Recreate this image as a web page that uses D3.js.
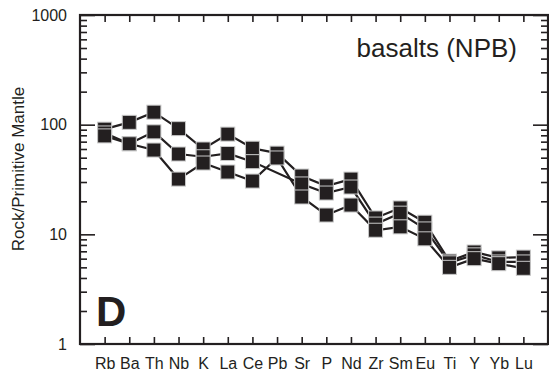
<!DOCTYPE html>
<html>
<head>
<meta charset="utf-8">
<script src="https://cdn.jsdelivr.net/npm/d3@7"></script>
<style>
  body { margin: 0; background: #fff; }
  text { font-family: "Liberation Sans", Arial, sans-serif; fill: #231f20; }
</style>
</head>
<body>
<div id="chart"></div>
<script>
// element order along the x axis
const elements = ["Rb", "Ba", "Th", "Nb", "K", "La", "Ce", "Pb", "Sr", "P", "Nd", "Zr", "Sm", "Eu", "Ti", "Y", "Yb", "Lu"];

// rock / primitive mantle, one array per sample (null = not measured)
const sampleA = [91, 105, 130, 92, 60, 82, 61, 55, 34, 27.6, 31.9, 14.1, 17.4, 12.9, 5.7, 6.9, 6.1, 6.2];
const sampleB = [84, 67, 86, 54, 51, 54.6, 46, null, 28.8, 23.8, 27, 12.4, 15.6, 11.2, 5.5, 6.5, 5.6, 5.6];
const sampleC = [79, 67, 58.7, 31.9, 44.7, 37, 30.6, 49.7, 21.9, 15, 18.5, 10.9, 11.7, 9.1, 5.0, 6.0, 5.4, 4.9];
const samples = [sampleA, sampleB, sampleC];

const majorTicks = [1, 10, 100, 1000];

const width = 549, height = 379;
const margin = {top: 15, right: 1, bottom: 35, left: 80};
const x0 = margin.left, x1 = width - margin.right, y0 = margin.top, y1 = height - margin.bottom;
const ink = "#231f20";

const svg = d3.select("#chart").append("svg")
    .attr("width", width)
    .attr("height", height);

const x = d3.scalePoint().domain(elements).range([x0, x1]).padding(1);
const y = d3.scaleLog().domain([1, 1000]).range([y1, y0]);

const minorTicks = y.ticks().filter(t => !majorTicks.includes(t));

function styleAxis(g) {
    g.select(".domain").remove();
    g.selectAll(".tick line").attr("stroke", ink).attr("stroke-width", 1.6);
}

// left axis: major ticks + labels, minor ticks
svg.append("g").attr("transform", `translate(${x0},0)`)
   .call(d3.axisLeft(y).tickValues(majorTicks).tickSize(-15).tickSizeOuter(0).tickPadding(13).tickFormat(d3.format("d")))
   .call(styleAxis)
   .call(g => g.selectAll("text").style("font-size", "16px").attr("font-family", null));
svg.append("g").attr("transform", `translate(${x0},0)`)
   .call(d3.axisLeft(y).tickValues(minorTicks).tickSize(-7).tickSizeOuter(0).tickFormat(""))
   .call(styleAxis);

// right axis, ticks pointing inward
svg.append("g").attr("transform", `translate(${x1},0)`)
   .call(d3.axisRight(y).tickValues(majorTicks).tickSize(-15).tickSizeOuter(0).tickFormat(""))
   .call(styleAxis);
svg.append("g").attr("transform", `translate(${x1},0)`)
   .call(d3.axisRight(y).tickValues(minorTicks).tickSize(-7).tickSizeOuter(0).tickFormat(""))
   .call(styleAxis);

// bottom axis with element labels
svg.append("g").attr("transform", `translate(0,${y1})`)
   .call(d3.axisBottom(x).tickSize(-7).tickSizeOuter(0).tickPadding(14))
   .call(styleAxis)
   .call(g => g.selectAll("text").style("font-size", "16px").attr("font-family", null));
svg.append("g").attr("transform", `translate(0,${y0})`)
   .call(d3.axisTop(x).tickSize(-7).tickSizeOuter(0).tickFormat(""))
   .call(styleAxis);

// frame
svg.append("rect")
   .attr("x", x0).attr("y", y0)
   .attr("width", x1 - x0).attr("height", y1 - y0)
   .attr("fill", "none").attr("stroke", ink).attr("stroke-width", 2.2);

// y title
svg.append("text")
   .attr("transform", "translate(24,169) rotate(-90)")
   .attr("text-anchor", "middle")
   .style("font-size", "17px")
   .text("Rock/Primitive Mantle");

svg.append("text")
   .attr("x", 517).attr("y", 57)
   .attr("text-anchor", "end")
   .style("font-size", "26px")
   .text("basalts (NPB)");

svg.append("text")
   .attr("x", 96).attr("y", 326)
   .style("font-size", "42px")
   .style("font-weight", "bold")
   .text("D");

// lines skip missing values
const line = d3.line()
    .x(d => x(d.el))
    .y(d => y(d.v));

const series = samples.map(s => s.map((v, i) => ({el: elements[i], v: v})).filter(d => d.v != null));

svg.selectAll(".pattern")
   .data(series)
   .join("path")
   .attr("class", "pattern")
   .attr("d", line)
   .attr("fill", "none")
   .attr("stroke", ink)
   .attr("stroke-width", 2.2);

const size = 14;
svg.selectAll(".sample")
   .data(series)
   .join("g")
   .attr("class", "sample")
   .selectAll("rect")
   .data(d => d)
   .join("rect")
   .attr("x", d => x(d.el) - size / 2)
   .attr("y", d => y(d.v) - size / 2)
   .attr("width", size)
   .attr("height", size)
   .attr("fill", ink)
   .attr("stroke", "#c8c8c8")
   .attr("stroke-width", 1);
</script>
</body>
</html>
